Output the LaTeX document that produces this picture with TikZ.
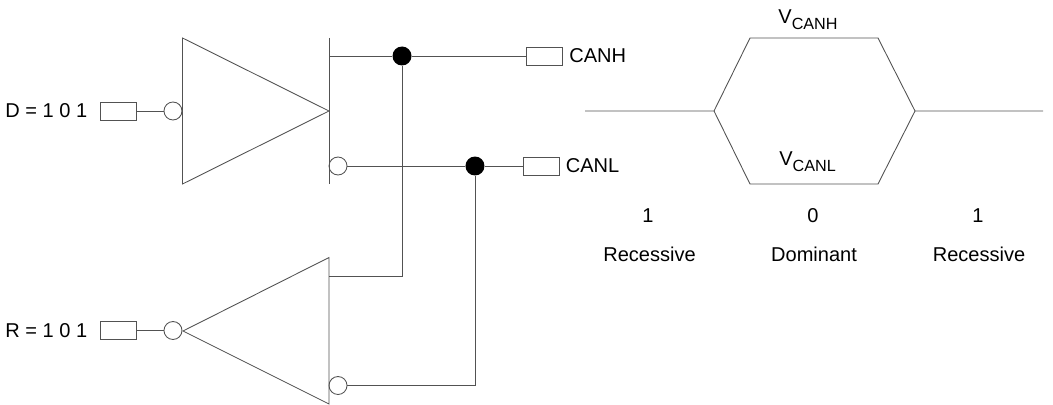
\documentclass[tikz,border=0pt]{standalone}
\usepackage{fontspec}
\setmainfont{Liberation Sans}
\usetikzlibrary{positioning}
\definecolor{wire}{gray}{0.32}
\tikzstyle{pinbox} = [rectangle, draw=wire, line width=0.5pt, minimum width=0.73cm, minimum height=0.36cm, inner sep=0pt]
\tikzstyle{bub}    = [circle, draw=wire, line width=0.5pt, minimum size=0.36cm, inner sep=0pt]
\tikzstyle{dot}    = [circle, fill=black, minimum size=0.38cm, inner sep=0pt]
\tikzstyle{lbl}    = [inner sep=0pt, font=\fontsize{11.4}{13}\selectfont]
\tikzstyle{wireln} = [draw=wire, line width=0.5pt, line join=miter]
\newcommand{\vsub}[1]{V\raisebox{-0.55ex}{\fontsize{9.2}{10}\selectfont #1}}

\begin{document}
\begin{tikzpicture}[x=0.02cm, y=-0.02cm, node distance=2cm]
        \useasboundingbox (0,0) rectangle (1053,405);

        % driver
        \coordinate (dtop) at (182.5,38);
        \coordinate (dbot) at (182.5,184);
        \coordinate (dtip) at (329,111);
        \coordinate (bartop) at (329,38);
        \coordinate (barbot) at (329,184);
        \coordinate (barH) at (329,56);
        \node[pinbox] (Dbox) at (118.5,111) {};
        \node[lbl, anchor=west] (Dlbl) at (5,111) {D = 1 0 1};
        \node[bub, right of=Dbox, node distance=1.09cm] (Dbub) {};
        \node[pinbox] (Hbox) at (544.5,56) {};
        \node[lbl, anchor=west] (Hlbl) at (569,56) {CANH};
        \node[dot] (Hdot) at (402,56) {};
        \node[bub] (Lbub) at (338,166) {};
        \node[dot, right of=Lbub, node distance=2.74cm] (Ldot) {};
        \node[pinbox] (Lbox) at (541.5,166) {};
        \node[lbl, anchor=west] (Llbl) at (565.5,166) {CANL};

        \draw[wireln] (dtop) -- (dbot) -- (dtip) -- cycle;
        \draw[wireln] (bartop) -- (barbot);
        \draw[wireln] (Dbox) -- (Dbub);
        \draw[wireln] (barH) -- (Hdot) -- (Hbox);
        \draw[wireln] (Lbub) -- (Ldot) -- (Lbox);

        % receiver
        \coordinate (rtip) at (183,331);
        \coordinate (rtop) at (329,257.5);
        \coordinate (rbot) at (329,404);
        \coordinate (rH) at (329,276);
        \node[pinbox] (Rbox) at (118.5,330.5) {};
        \node[lbl, anchor=west] (Rlbl) at (5,330.5) {R = 1 0 1};
        \node[bub, right of=Rbox, node distance=1.09cm] (Rbub) {};
        \node[bub] (RLbub) at (338,385.5) {};

        \draw[wireln] (rtip) -- (rtop) -- (rbot) -- cycle;
        \draw[wireln] (Rbox) -- (Rbub);
        \draw[wireln] (rH) -| (Hdot);
        \draw[wireln] (RLbub) -| (Ldot);

        % bus levels
        \coordinate (w0) at (585,111);
        \coordinate (w1) at (714,111);
        \coordinate (w2) at (750,38);
        \coordinate (w3) at (878,38);
        \coordinate (w4) at (915,111);
        \coordinate (w5) at (1043,111);
        \coordinate (w6) at (878,184);
        \coordinate (w7) at (750,184);
        \draw[wireln] (w0) -- (w1) -- (w2) -- (w3) -- (w4) -- (w5);
        \draw[wireln] (w1) -- (w7) -- (w6) -- (w4);
        \node[lbl] (vh) at (808,20) {\vsub{CANH}};
        \node[lbl] (vl) at (807.5,162) {\vsub{CANL}};

        \node[lbl] (b1) at (648,216) {1};
        \node[lbl] (b2) at (813,216) {0};
        \node[lbl] (b3) at (978,216) {1};
        \node[lbl] (s1) at (649.5,254) {Recessive};
        \node[lbl] (s2) at (814,254) {Dominant};
        \node[lbl] (s3) at (979,254) {Recessive};
    \end{tikzpicture}
\end{document}
